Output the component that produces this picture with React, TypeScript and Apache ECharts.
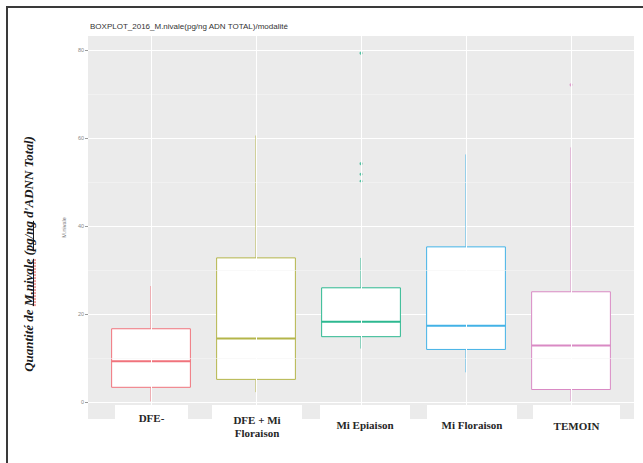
import React, { useEffect, useRef } from "react";
import * as echarts from "echarts";

// Treatments (one box per modality)
const categories = ["DFE-", "DFE + Mi Floraison", "Mi Epiaison", "Mi Floraison", "TEMOIN"];
const labelLines = [["DFE-"], ["DFE + Mi", "Floraison"], ["Mi Epiaison"], ["Mi Floraison"], ["TEMOIN"]];

// Box statistics per modality: [lower whisker, Q1, median, Q3, upper whisker]
const lowerWhisker = [0.2, 2.3, 12.2, 6.8, 0.3];
const q1 = [3.4, 5.2, 14.9, 12.0, 2.9];
const median = [9.3, 14.5, 18.3, 17.4, 12.9];
const q3 = [16.7, 32.8, 26.0, 35.3, 25.1];
const upperWhisker = [26.4, 60.6, 32.8, 56.3, 57.9];

// Outliers: [modality index, value]
const outliers: [number, number][] = [
  [2, 79.3],
  [2, 54.2],
  [2, 51.8],
  [2, 50.2],
  [4, 72.1],
];

const yTicks = [0, 20, 40, 60, 80];
const yMinor = [10, 30, 50, 70];

const colors = ["#F0737C", "#B4B54A", "#2DB890", "#43B2E6", "#D98AC4"];

// Pixel layout of the white caption boxes laid over the axis strip
const captionBoxes = [
  [115, 188],
  [212, 302],
  [320, 410],
  [427, 517],
  [533, 620],
];
const captionY = [418, 420, 425, 425, 426];

const sideTitlePre = "Quantité de ";
const sideTitleName = "M.nivale";
const sideTitleMid = " (";
const sideTitleUnit = "pg/ng";
const sideTitlePost = " d'ADNN Total)";

export default function App() {
  const ref = useRef<HTMLDivElement>(null);

  useEffect(() => {
    if (!ref.current) return;
    const chart = echarts.init(ref.current, undefined, { renderer: "svg" });

    const boxData = categories.map((_, i) => [
      i,
      lowerWhisker[i],
      q1[i],
      median[i],
      q3[i],
      upperWhisker[i],
    ]);

    const graphics: any[] = [];
    captionBoxes.forEach(([x0, x1], i) => {
      graphics.push({
        type: "rect",
        shape: { x: x0, y: 405, width: x1 - x0, height: 15 },
        style: { fill: "#ffffff" },
        z: 100,
      });
      labelLines[i].forEach((t, k) => {
        graphics.push({
          type: "text",
          x: (x0 + x1) / 2,
          y: captionY[i] + k * 13,
          style: {
            text: t,
            fill: "#262626",
            font: 'bold 11px "Liberation Serif", serif',
            textAlign: "center",
            textVerticalAlign: "middle",
          },
          z: 101,
        });
      });
    });

    // Frame around the figure
    graphics.push({
      type: "polyline",
      shape: { points: [[7, 470], [7, 7], [650, 7]] },
      style: { stroke: "#3a3a3a", lineWidth: 2, fill: "none" },
      z: 100,
    });

    // Large rotated axis caption, with underlined words
    const sideFont = 'italic bold 13px "Liberation Serif", serif';
    const fullTitle = sideTitlePre + sideTitleName + sideTitleMid + sideTitleUnit + sideTitlePost;
    const ctx = document.createElement("canvas").getContext("2d") as CanvasRenderingContext2D;
    ctx.font = sideFont;
    const mw = (s: string) => ctx.measureText(s).width;
    const cxT = 28;
    const cyT = 254;
    const total = mw(fullTitle);
    const startY = cyT + total / 2;
    graphics.push({
      type: "text",
      x: cxT,
      y: cyT,
      rotation: Math.PI / 2,
      style: {
        text: fullTitle,
        fill: "#1a1a1a",
        font: sideFont,
        textAlign: "center",
        textVerticalAlign: "middle",
      },
      z: 101,
    });
    const nameA = mw(sideTitlePre);
    const nameB = nameA + mw(sideTitleName);
    const unitA = mw(sideTitlePre + sideTitleName + sideTitleMid);
    const unitB = unitA + mw(sideTitleUnit);
    const ulX = cxT + 5.5;
    graphics.push({
      type: "line",
      shape: { x1: ulX, y1: startY - nameA, x2: ulX, y2: startY - nameB },
      style: { stroke: "#1a1a1a", lineWidth: 1 },
      z: 101,
    });
    graphics.push({
      type: "line",
      shape: { x1: ulX + 1.5, y1: startY - nameA, x2: ulX + 1.5, y2: startY - nameB },
      style: { stroke: "#E04040", lineWidth: 1, lineDash: [2, 1] },
      z: 101,
    });
    graphics.push({
      type: "line",
      shape: { x1: ulX, y1: startY - unitA, x2: ulX, y2: startY - unitB },
      style: { stroke: "#1a1a1a", lineWidth: 1 },
      z: 101,
    });

    chart.setOption({
      animation: false,
      backgroundColor: "#ffffff",
      title: {
        text: "BOXPLOT_2016_M.nivale(pg/ng ADN TOTAL)/modalité",
        left: 90,
        top: 22,
        padding: 0,
        textStyle: {
          fontFamily: '"Liberation Sans", Arial, sans-serif',
          fontSize: 8,
          fontWeight: "normal",
          color: "#333333",
        },
      },
      grid: {
        left: 88,
        right: 9,
        top: 36,
        bottom: 44,
        show: true,
        backgroundColor: "#EBEBEB",
        borderWidth: 0,
      },
      xAxis: {
        type: "value",
        min: -0.6,
        max: 4.6,
        axisLine: { show: false, onZero: false },
        axisTick: { show: false },
        axisLabel: { show: false },
        splitLine: { show: false },
      },
      yAxis: {
        type: "value",
        min: -3.8,
        max: 83.2,
        name: "M.nivale",
        nameLocation: "middle",
        nameGap: 14,
        nameRotate: 90,
        nameTextStyle: { fontSize: 5.5, color: "#777777", fontFamily: '"Liberation Sans", sans-serif' },
        axisLine: { show: false, onZero: false },
        axisTick: { show: true, length: 3, lineStyle: { color: "#9a9a9a" }, customValues: yTicks },
        axisLabel: {
          fontSize: 5.5,
          color: "#8a8a8a",
          margin: 4,
          customValues: yTicks,
          fontFamily: '"Liberation Sans", sans-serif',
        },
        splitLine: { show: true, lineStyle: { color: "#ffffff", width: 1 } },
      },
      series: [
        {
          // panel grid lines
          type: "line",
          data: [],
          z: 1,
          silent: true,
          markLine: {
            silent: true,
            symbol: "none",
            label: { show: false },
            animation: false,
            data: [
              ...yMinor.map((v) => ({ yAxis: v, lineStyle: { color: "#F5F5F5", width: 0.6, type: "solid" } })),
              ...categories.map((_, i) => ({ xAxis: i, lineStyle: { color: "#ffffff", width: 1, type: "solid" } })),
            ],
          },
        },
        {
          type: "custom",
          z: 2,
          data: boxData,
          renderItem: (params: any, api: any) => {
            const i = api.value(0);
            const lo = api.coord([i, api.value(1)]);
            const b1 = api.coord([i, api.value(2)]);
            const md = api.coord([i, api.value(3)]);
            const b3 = api.coord([i, api.value(4)]);
            const hi = api.coord([i, api.value(5)]);
            const w = api.size([0.75, 0])[0];
            const cx = lo[0];
            const color = colors[params.dataIndex];
            return {
              type: "group",
              children: [
                {
                  type: "line",
                  shape: { x1: cx, y1: hi[1], x2: cx, y2: b3[1] },
                  style: { stroke: color, lineWidth: 1 },
                },
                {
                  type: "line",
                  shape: { x1: cx, y1: b1[1], x2: cx, y2: lo[1] },
                  style: { stroke: color, lineWidth: 1 },
                },
                {
                  type: "rect",
                  shape: { x: cx - w / 2, y: b3[1], width: w, height: b1[1] - b3[1] },
                  style: { fill: "#ffffff", stroke: color, lineWidth: 1 },
                },
                {
                  type: "line",
                  shape: { x1: cx - w / 2, y1: md[1], x2: cx + w / 2, y2: md[1] },
                  style: { stroke: color, lineWidth: 2 },
                },
              ],
            };
          },
        },
        {
          type: "scatter",
          z: 3,
          symbolSize: 3,
          data: outliers.map(([i, v]) => ({ value: [i, v], itemStyle: { color: colors[i] } })),
        },
      ],
      graphic: graphics,
    });

    return () => chart.dispose();
  }, []);

  return <div ref={ref} style={{ width: 643, height: 463, position: "absolute", left: 0, top: 0 }} />;
}
